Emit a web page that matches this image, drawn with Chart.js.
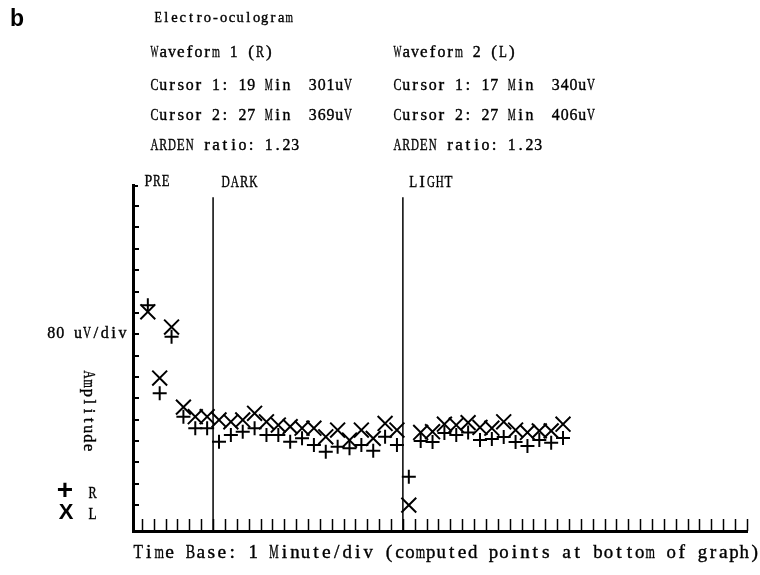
<!DOCTYPE html>
<html>
<head>
<meta charset="utf-8">
<script src="https://cdn.jsdelivr.net/npm/chart.js@4.4.0/dist/chart.umd.min.js"></script>
<style>
html,body{margin:0;padding:0;background:#fff;}
#eog{display:block;}
</style>
</head>
<body>
<canvas id="eog" width="760" height="575"></canvas>
<script>
// one computed point per minute
var minutes = [0,1,2,3,4,5,6,7,8,9,10,11,12,13,14,15,16,17,18,19,20,21,22,23,24,25,26,27,28,29,30,31,32,33,34,35];
// Waveform 1 (R), uV
var ampR = [846,516,728,428,385,385,334,360,372,385,360,360,334,347,322,297,316,310,322,301,353,322,203,337,333,367,360,369,341,345,352,333,318,341,331,348];
// Waveform 2 (L), uV
var ampL = [821,573,764,464,428,428,416,409,416,441,409,397,391,385,385,353,378,340,378,347,403,378,97,369,372,400,397,406,388,385,409,378,369,375,375,400];
// phase changes (minutes)
var darkStart = 5.5;
var lightStart = 21.5;
var phaseNames = ["PRE","DARK","LIGHT"];

var title = "Electro-oculogram";
var headerLeft = ["Waveform 1 (R)","Cursor 1: 19 Min  301uV","Cursor 2: 27 Min  369uV","ARDEN ratio: 1.23"];
var headerRight = ["Waveform 2 (L)","Cursor 1: 17 Min  340uV","Cursor 2: 27 Min  406uV","ARDEN ratio: 1.23"];
var yScaleText = "80 uV/div";
var yTitle = "Amplitude";
var xTitle = "Time Base: 1 Minute/div (computed points at bottom of graph)";
var seriesNames = ["R","L"];

var uvPerDiv = 80;

function toPoints(xs, ys){
    var out = [];
    for (var i = 0; i < xs.length; i++) out.push({x: xs[i], y: ys[i]});
    return out;
}

// serif text laid out on a fixed character grid, like the printer font
function gridText(ctx, str, x, y, adv, size, align){
    var w = str.length * adv;
    var x0 = x;
    if (align === 'right') x0 = x - w;
    if (align === 'center') x0 = x - w / 2;
    ctx.save();
    ctx.font = size + 'px "Liberation Serif", "Times New Roman", serif';
    ctx.textAlign = 'center';
    ctx.textBaseline = 'alphabetic';
    ctx.lineWidth = 0.4;
    var base = y + size * 0.33;
    for (var i = 0; i < str.length; i++){
        var c = str.charAt(i);
        if (c === ' ') continue;
        var cw = ctx.measureText(c).width;
        var sx = Math.min(1, adv * 0.9 / cw);
        ctx.save();
        ctx.translate(x0 + adv * (i + 0.5), base);
        ctx.scale(sx, 1);
        ctx.fillText(c, 0, 0);
        ctx.strokeText(c, 0, 0);
        ctx.restore();
    }
    ctx.restore();
}

var extras = {
    id: 'extras',
    afterDraw: function(chart){
        var ctx = chart.ctx;
        var xs = chart.scales.x, ys = chart.scales.y, area = chart.chartArea;
        ctx.save();
        ctx.strokeStyle = '#000';
        ctx.fillStyle = '#000';

        // y tick marks, inside the axis
        ctx.lineWidth = 2;
        for (var v = 97; v < ys.max; v += uvPerDiv){
            var py = Math.round(ys.getPixelForValue(v));
            ctx.beginPath(); ctx.moveTo(area.left, py); ctx.lineTo(area.left + 6, py); ctx.stroke();
        }
        ctx.beginPath(); ctx.moveTo(area.left, area.top + 1); ctx.lineTo(area.left + 5, area.top + 1); ctx.stroke();

        // x tick marks, one per minute
        ctx.lineWidth = 1.5;
        for (var m = -0.5; m <= xs.max; m += 1){
            var px = Math.round(xs.getPixelForValue(m)) + 0.5;
            ctx.beginPath(); ctx.moveTo(px, area.bottom); ctx.lineTo(px, area.bottom - 12); ctx.stroke();
        }

        // header
        ctx.font = 'bold 23px "Liberation Sans", Arial, sans-serif';
        ctx.textAlign = 'left'; ctx.textBaseline = 'alphabetic';
        ctx.fillText('b', 10, 26);
        gridText(ctx, title, 154, 17, 8.2, 14.5, 'left');
        var rows = [51.5, 84, 114, 144];
        for (var i = 0; i < rows.length; i++){
            gridText(ctx, headerLeft[i], 150, rows[i], 8.8, 17, 'left');
            gridText(ctx, headerRight[i], 393, rows[i], 8.8, 17, 'left');
        }

        // phase labels
        gridText(ctx, phaseNames[0], 144, 181, 8.6, 16, 'left');
        gridText(ctx, phaseNames[1], xs.getPixelForValue(darkStart) + 8, 181, 9.2, 17, 'left');
        gridText(ctx, phaseNames[2], xs.getPixelForValue(lightStart) + 6, 181, 8.8, 17, 'left');

        // y axis text
        gridText(ctx, yScaleText, 127, 332, 8.9, 17, 'right');
        ctx.save();
        ctx.translate(90, 411);
        ctx.rotate(Math.PI / 2);
        gridText(ctx, yTitle, 0, 0, 9.1, 17, 'center');
        ctx.restore();

        // x axis text
        gridText(ctx, xTitle, 133, 552, 10.45, 19.5, 'left');

        // legend
        ctx.font = 'bold 28px "Liberation Sans", Arial, sans-serif';
        ctx.textAlign = 'center'; ctx.textBaseline = 'middle';
        ctx.fillText('+', 65, 491);
        ctx.font = 'bold 22px "Liberation Sans", Arial, sans-serif';
        ctx.fillText('X', 66, 513);
        gridText(ctx, seriesNames[0], 88, 492, 9, 17, 'left');
        gridText(ctx, seriesNames[1], 88, 513, 9, 17, 'left');
        ctx.restore();
    }
};

var eog = new Chart(document.getElementById('eog').getContext('2d'), {
    type: 'scatter',
    data: {
        datasets: [
            {
                label: seriesNames[0],
                data: toPoints(minutes, ampR),
                pointStyle: 'cross',
                pointRadius: 7,
                borderColor: '#000',
                borderWidth: 2,
                backgroundColor: '#000'
            },
            {
                label: seriesNames[1],
                data: toPoints(minutes, ampL),
                pointStyle: 'crossRot',
                pointRadius: 10.5,
                borderColor: '#000',
                borderWidth: 2,
                backgroundColor: '#000'
            },
            {
                type: 'line',
                label: 'dark',
                data: [{x: darkStart, y: 0}, {x: darkStart, y: 1250}],
                showLine: true,
                borderColor: '#000',
                borderWidth: 1.5,
                pointRadius: 0
            },
            {
                type: 'line',
                label: 'light',
                data: [{x: lightStart, y: 0}, {x: lightStart, y: 1250}],
                showLine: true,
                borderColor: '#000',
                borderWidth: 1.5,
                pointRadius: 0
            }
        ]
    },
    options: {
        responsive: false,
        animation: false,
        layout: {padding: {left: 133, right: 6, top: 185, bottom: 44}},
        plugins: {
            legend: {display: false},
            tooltip: {enabled: false}
        },
        scales: {
            x: {
                type: 'linear',
                min: -1.25,
                max: 50.55,
                ticks: {display: false},
                grid: {display: false},
                border: {display: true, width: 3, color: '#000'},
                afterFit: function(s){ s.height = 0; }
            },
            y: {
                min: 0,
                max: 1296,
                ticks: {display: false},
                grid: {display: false},
                border: {display: true, width: 3, color: '#000'},
                afterFit: function(s){ s.width = 0; }
            }
        }
    },
    plugins: [extras]
});
</script>
</body>
</html>
